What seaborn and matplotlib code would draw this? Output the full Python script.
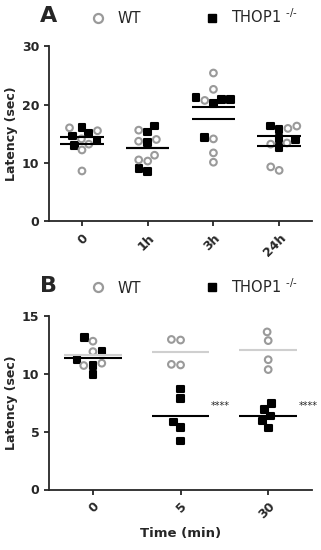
import numpy as np
import pandas as pd
import matplotlib
matplotlib.use("Agg")
import matplotlib.pyplot as plt
import seaborn as sns
from matplotlib.lines import Line2D
from matplotlib.markers import MarkerStyle

sns.set_style("ticks")
plt.rcParams.update({
    "font.family": ["DejaVu Sans"],
    "font.size": 9,
    "axes.linewidth": 1.3,
    "xtick.major.width": 1.3,
    "ytick.major.width": 1.3,
    "xtick.major.size": 3.5,
    "ytick.major.size": 3.5,
})

# Panel A: latency at each time point
A_TIMES = ["0", "1h", "3h", "24h"]
A_WT = [
    [15.5, 16.0, 14.1, 13.2, 12.2, 8.6],
    [13.7, 14.0, 15.6, 10.3, 11.3, 10.5],
    [25.4, 22.6, 20.7, 14.1, 11.7, 10.1],
    [16.3, 15.9, 13.2, 13.4, 8.7, 9.3],
]
A_KO = [
    [16.0, 15.0, 14.6, 13.9, 13.0],
    [15.3, 16.3, 13.5, 9.0, 8.5],
    [21.2, 20.9, 20.9, 20.2, 14.3],
    [16.3, 15.7, 14.2, 13.9, 12.6],
]

# Panel B: latency vs time (min)
B_TIMES = ["0", "5", "30"]
B_WT = [
    [12.8, 11.9, 10.9, 10.7],
    [12.95, 12.9, 10.8, 10.75],
    [13.6, 12.85, 11.2, 10.35],
]
B_KO = [
    [13.1, 11.9, 11.2, 10.7, 9.9],
    [8.66, 7.85, 5.84, 5.35, 4.2],
    [7.4, 6.9, 6.33, 5.92, 5.32],
]
B_SIG = ["", "****", "****"]

GREY = "#9a9a9a"
KO_LABEL = "THOP1 $^{\\text{-/-}}$"


def long_table(times, wt, ko):
    rows = []
    for t, vals in zip(times, ko):
        rows += [(t, "THOP1", v) for v in vals]
    for t, vals in zip(times, wt):
        rows += [(t, "WT", v) for v in vals]
    return pd.DataFrame(rows, columns=["time", "genotype", "latency"])


def panel(ax, letter, times, wt, ko, ymax, ystep, wt_line):
    df = long_table(times, wt, ko)
    sns.swarmplot(data=df, x="time", y="latency", hue="genotype",
                  order=times, hue_order=["WT", "THOP1"],
                  palette={"WT": GREY, "THOP1": "black"},
                  dodge=False, size=4.8, marker="s", linewidth=1.5,
                  legend=False, ax=ax)

    # give the WT points hollow circle markers inside the shared swarm
    circ = MarkerStyle("o")
    circ_path = circ.get_path().transformed(circ.get_transform())
    sq = MarkerStyle("s")
    sq_path = sq.get_path().transformed(sq.get_transform())
    for coll in ax.collections:
        idx = int(round(coll.get_offsets()[0, 0]))
        geno = df.loc[df["time"] == times[idx], "genotype"].tolist()
        is_wt = [g == "WT" for g in geno]
        coll.set_paths([circ_path if w else sq_path for w in is_wt])
        coll.set_facecolors([(1, 1, 1, 0) if w else (0, 0, 0, 1) for w in is_wt])
        coll.set_edgecolors([GREY if w else "black" for w in is_wt])
        coll.set_linewidth(1.5)
        coll.set_zorder(2)

    for i in range(len(times)):
        ax.hlines(np.mean(wt[i]), i - 0.33, i + 0.33, color=wt_line, lw=1.5, zorder=3)
        ax.hlines(np.mean(ko[i]), i - 0.33, i + 0.33, color="black", lw=1.5, zorder=3)

    ax.set_xlim(-0.5, len(times) - 0.5)
    ax.set_ylim(0, ymax)
    ax.set_yticks(np.arange(0, ymax + 0.1, ystep))
    ax.set_ylabel("Latency (sec)", fontweight="bold", fontsize=9)
    ax.set_xlabel("")
    for lab in ax.get_yticklabels():
        lab.set_fontweight("bold")
    ax.set_xticks(range(len(times)))
    ax.set_xticklabels(times, rotation=45, ha="right", rotation_mode="anchor",
                       fontweight="bold")
    ax.tick_params(axis="x", pad=4)
    sns.despine(ax=ax)

    handles = [
        Line2D([], [], ls="none", marker="o", ms=6.5, mfc="none", mec=GREY, mew=1.6),
        Line2D([], [], ls="none", marker="s", ms=5.8, mfc="black", mec="black"),
    ]
    ax.legend(handles, ["WT", KO_LABEL], ncol=2, frameon=False, fontsize=10.5,
              loc="center left", bbox_to_anchor=(0.16, 1.17),
              borderpad=0, borderaxespad=0, handlelength=1.0,
              handletextpad=0.8, columnspacing=4.35)
    ax.text(-0.034, 1.17, letter, transform=ax.transAxes, fontsize=16,
            fontweight="heavy", ha="left", va="center")


fig = plt.figure(figsize=(3.21, 5.5), dpi=100)
ax_a = fig.add_axes([0.153, 0.598, 0.819, 0.318])
ax_b = fig.add_axes([0.153, 0.110, 0.819, 0.316])

panel(ax_a, "A", A_TIMES, A_WT, A_KO, 30, 10, "black")
panel(ax_b, "B", B_TIMES, B_WT, B_KO, 15, 5, "#cfcfcf")

for i, s in enumerate(B_SIG):
    if s:
        ax_b.text(i + 0.35, 7.2, s, fontsize=7, ha="left", va="center")

ax_b.set_xlabel("Time (min)", fontweight="bold", fontsize=9.5)
ax_a.yaxis.set_label_coords(-0.12, 0.5)
ax_b.yaxis.set_label_coords(-0.12, 0.5)

fig.savefig("out.png", dpi=100)
